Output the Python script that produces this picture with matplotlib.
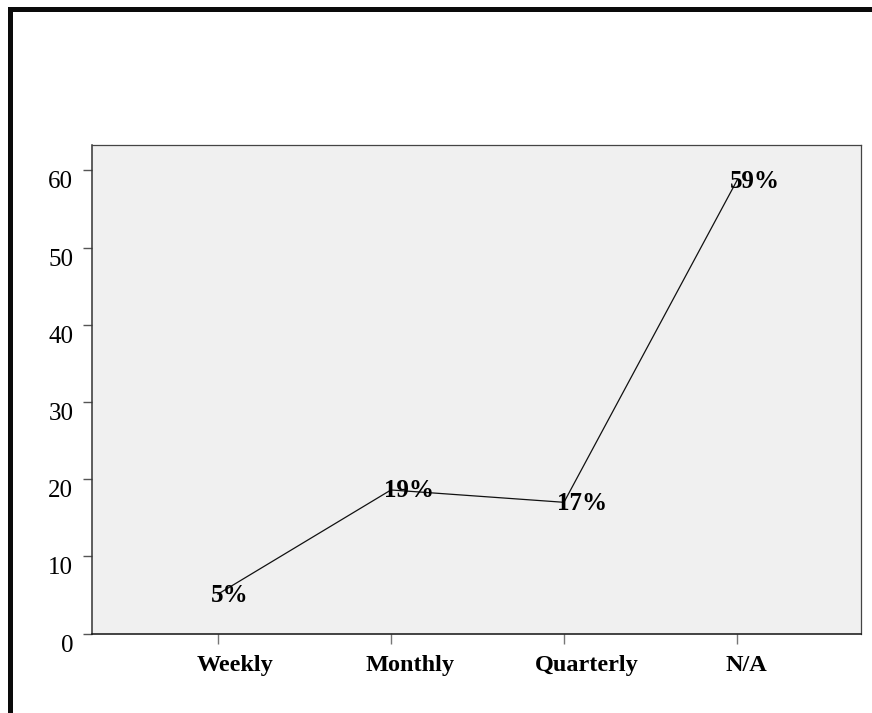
import matplotlib
matplotlib.use("Agg")
import matplotlib.pyplot as plt
from matplotlib.patches import Rectangle
from matplotlib.transforms import ScaledTranslation

# Survey responses: how often the review happens (percent of respondents)
categories = ["Weekly", "Monthly", "Quarterly", "N/A"]
percentages = [5.1, 18.6, 17.0, 58.7]
y_ticks = [0, 10, 20, 30, 40, 50, 60]

W, H, DPI = 872, 713, 100
fig = plt.figure(figsize=(W / DPI, H / DPI), dpi=DPI, facecolor="white")
plt.rcParams["font.family"] = ["Liberation Serif", "DejaVu Serif"]

# Heavy frame along the top and left edges of the canvas
fig.add_artist(Rectangle((8 / W, 0), 5 / W, 1 - 7 / H, transform=fig.transFigure,
                         facecolor="#0a0a0a", edgecolor="none"))
fig.add_artist(Rectangle((8 / W, 1 - 12 / H), 1, 5 / H, transform=fig.transFigure,
                         facecolor="#0a0a0a", edgecolor="none"))

left, right = 92 / W, 861 / W
bottom, top = 1 - 633.5 / H, 1 - 145 / H
ax = fig.add_axes([left, bottom, right - left, top - bottom])
ax.set_facecolor("#f0f0f0")

x = list(range(len(categories)))
ax.plot(x, percentages, color="#111111", linewidth=0.9, zorder=2)

for xi, v in zip(x, percentages):
    ax.annotate(f"{v:.0f}%", (xi, v), xytext=(-7, -1), textcoords="offset pixels",
                ha="left", va="center", fontsize=18, fontweight="bold",
                color="black", zorder=3)

ax.set_xlim(-0.728, 3.717)
ax.set_ylim(0, 63.3)
ax.set_xticks(x)
ax.set_xticklabels(categories, fontsize=17.5, fontweight="bold")
ax.set_yticks(y_ticks)
ax.set_yticklabels([str(t) for t in y_ticks], fontsize=18)

ax.tick_params(axis="y", direction="out", length=6.5, width=1, color="#555555",
               pad=7, labelcolor="black")
ax.tick_params(axis="x", direction="out", length=7, width=1, color="#777777",
               pad=8.5, labelcolor="black")

for side in ["top", "right"]:
    ax.spines[side].set_color("#444444")
    ax.spines[side].set_linewidth(0.9)
ax.spines["left"].set_color("#333333")
ax.spines["left"].set_linewidth(1.1)
ax.spines["bottom"].set_color("#111111")
ax.spines["bottom"].set_linewidth(1.1)

# Category labels sit slightly right of their ticks; value labels sit below theirs
fig.canvas.draw()
renderer = fig.canvas.get_renderer()
for lbl in ax.get_xticklabels():
    w = lbl.get_window_extent(renderer).width
    lbl.set_transform(lbl.get_transform()
                      + ScaledTranslation(0.22 * w / DPI, 0, fig.dpi_scale_trans))
for lbl in ax.get_yticklabels():
    lbl.set_transform(lbl.get_transform()
                      + ScaledTranslation(0, -9.5 / DPI, fig.dpi_scale_trans))

fig.savefig("out.png", dpi=DPI, facecolor="white")
